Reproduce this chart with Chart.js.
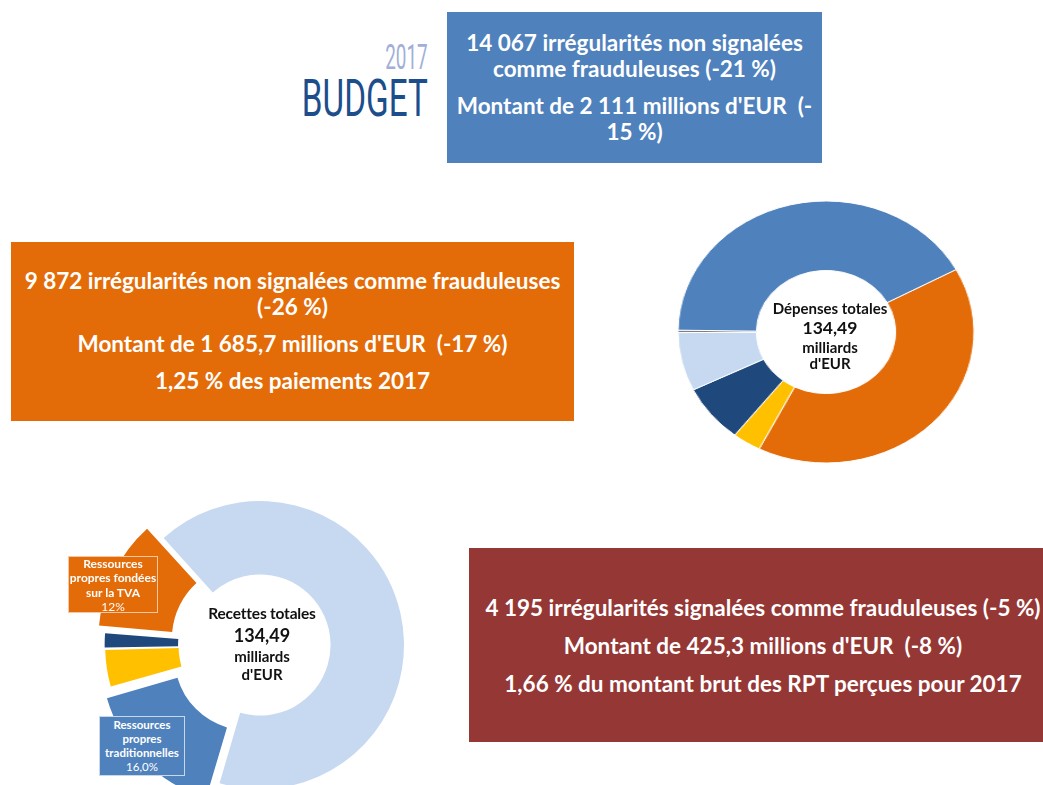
<!DOCTYPE html>
<html lang="fr">
<head>
<meta charset="utf-8">
<script src="https://cdn.jsdelivr.net/npm/chart.js@4.4.1/dist/chart.umd.min.js"></script>
<style>
  body { margin: 0; width: 1043px; height: 785px; overflow: hidden; position: relative; background: #fff; font-family: Lato, "Open Sans", sans-serif; }
  .box { position: absolute; color: #fff; font-weight: bold; text-align: center; font-size: 22.5px; line-height: 26px; box-sizing: border-box; }
  .box p { margin: 0 0 11px; white-space: nowrap; }
  #blue { left: 447px; top: 12px; width: 375px; height: 151px; background: #4f81bd; padding-top: 18px; }
  #orange { left: 11px; top: 242px; width: 563px; height: 179px; background: #e36c09; padding-top: 26px; }
  #red { left: 469px; top: 548px; width: 588px; height: 194px; background: #953735; padding-top: 47px; }
  #red p { margin-bottom: 12px; }
  .logo { position: absolute; right: 615px; font-family: Roboto, sans-serif; font-weight: 400; transform-origin: right center; white-space: nowrap; }
  #y2017 { top: 40px; font-size: 35px; line-height: 35px; color: #a1afd8; transform: scaleX(0.54); }
  #budget { top: 73px; font-size: 52px; line-height: 52px; color: #1c4e8c; transform: scaleX(0.64); }
  .wrap { position: absolute; }
  #w1 { left: 676px; top: 182px; width: 300px; height: 300px; transform: scaleX(1.13); }
  #w2 { left: 90px; top: 475px; width: 340px; height: 340px; }
  .centre { position: absolute; text-align: center; font-weight: bold; color: #111; z-index: 2; white-space: nowrap; }
  #c1 { left: 770px; width: 120px; top: 299px; font-size: 15px; line-height: 16px; }
  #c1 .t { line-height: 18px; }
  #c1 .big { font-size: 17.5px; line-height: 22px; }
  #c2 { left: 202px; width: 120px; top: 603px; font-size: 15px; line-height: 18px; }
  #c2 .t { font-size: 15.5px; line-height: 20px; letter-spacing: -0.2px; }
  #c2 .big { font-size: 18px; line-height: 24px; }
  .lab { position: absolute; z-index: 2; color: #fff; text-align: center; font-weight: bold; box-sizing: border-box; white-space: nowrap; }
  .lab span { font-weight: normal; }
  #l1 { left: 68px; top: 556px; width: 90px; height: 57px; background: #e36c09; border: 1px solid #f6c7a3; font-size: 12px; line-height: 14.3px; }
  #l2 { left: 99px; top: 716px; width: 86px; height: 60px; background: #4f81bd; border: 1px solid #c9d7ea; padding-top: 1px; font-size: 11.5px; line-height: 14px; }
</style>
</head>
<body>
<div class="logo" id="y2017">2017</div>
<div class="logo" id="budget">BUDGET</div>

<div class="box" id="blue">
  <p>14 067 irrégularités non signalées<br>comme frauduleuses (-21 %)</p>
  <p>Montant de 2 111 millions d'EUR&nbsp; (-<br>15 %)</p>
</div>

<div class="box" id="orange">
  <p>9 872 irrégularités non signalées comme frauduleuses<br>(-26 %)</p>
  <p>Montant de 1 685,7 millions d'EUR&nbsp; (-17 %)</p>
  <p>1,25 % des paiements 2017</p>
</div>

<div class="box" id="red">
  <p>4 195 irrégularités signalées comme frauduleuses (-5 %)</p>
  <p>Montant de 425,3 millions d'EUR&nbsp; (-8 %)</p>
  <p>1,66 % du montant brut des RPT perçues pour 2017</p>
</div>

<div class="wrap" id="w1"><canvas id="depenses" width="300" height="300"></canvas></div>
<div class="wrap" id="w2"><canvas id="recettes" width="340" height="340"></canvas></div>

<div class="centre" id="c1"><div class="t">Dépenses totales</div><div class="big">134,49</div>milliards<br>d'EUR</div>
<div class="centre" id="c2"><div class="t">Recettes totales</div><div class="big">134,49</div>milliards<br>d'EUR</div>

<div class="lab" id="l1">Ressources<br>propres fondées<br>sur la TVA<br><span>12%</span></div>
<div class="lab" id="l2">Ressources<br>propres<br>traditionnelles<br><span>16,0%</span></div>

<script>
// Dépenses 2017 (milliards d'EUR)
const depLabels = ['Croissance intelligente et inclusive', 'Sécurité et citoyenneté', "L'Europe dans le monde", 'Administration', 'Autres', 'Ressources naturelles'];
const depValues = [54.3, 4.2, 9.6, 9.7, 0.4, 56.3];
const depColors = ['#e36c09', '#ffc000', '#1f497d', '#c6d9f1', '#7f7f7f', '#4f81bd'];

// Recettes 2017 (% du total)
const recLabels = ['Ressources propres fondées sur le RNB', 'Ressources propres traditionnelles', 'Autres recettes', 'Excédent', 'Ressources propres fondées sur la TVA'];
const recValues = [66.2, 16.0, 4.1, 1.7, 12.0];
const recColors = ['#c6d9f1', '#4f81bd', '#ffc000', '#1f497d', '#e36c09'];
// exploded slices (Chart.js moves an arc by offset / 4)
const recOffsets = [0, 69, 25, 24, 58];

const common = {
  responsive: false,
  devicePixelRatio: 1,
  animation: false,
  events: [],
  layout: { padding: 0 },
  plugins: { legend: { display: false }, tooltip: { enabled: false } }
};

new Chart(document.getElementById('depenses'), {
  type: 'doughnut',
  data: {
    labels: depLabels,
    datasets: [{
      data: depValues,
      backgroundColor: depColors,
      borderColor: '#ffffff',
      borderWidth: 1
    }]
  },
  options: { ...common, radius: 131, cutout: '47%', rotation: 61.5 }
});

new Chart(document.getElementById('recettes'), {
  type: 'doughnut',
  data: {
    labels: recLabels,
    datasets: [{
      data: recValues,
      backgroundColor: recColors,
      borderWidth: 0,
      offset: recOffsets
    }]
  },
  options: { ...common, radius: 144, cutout: '49%', rotation: -42 }
});
</script>
</body>
</html>
